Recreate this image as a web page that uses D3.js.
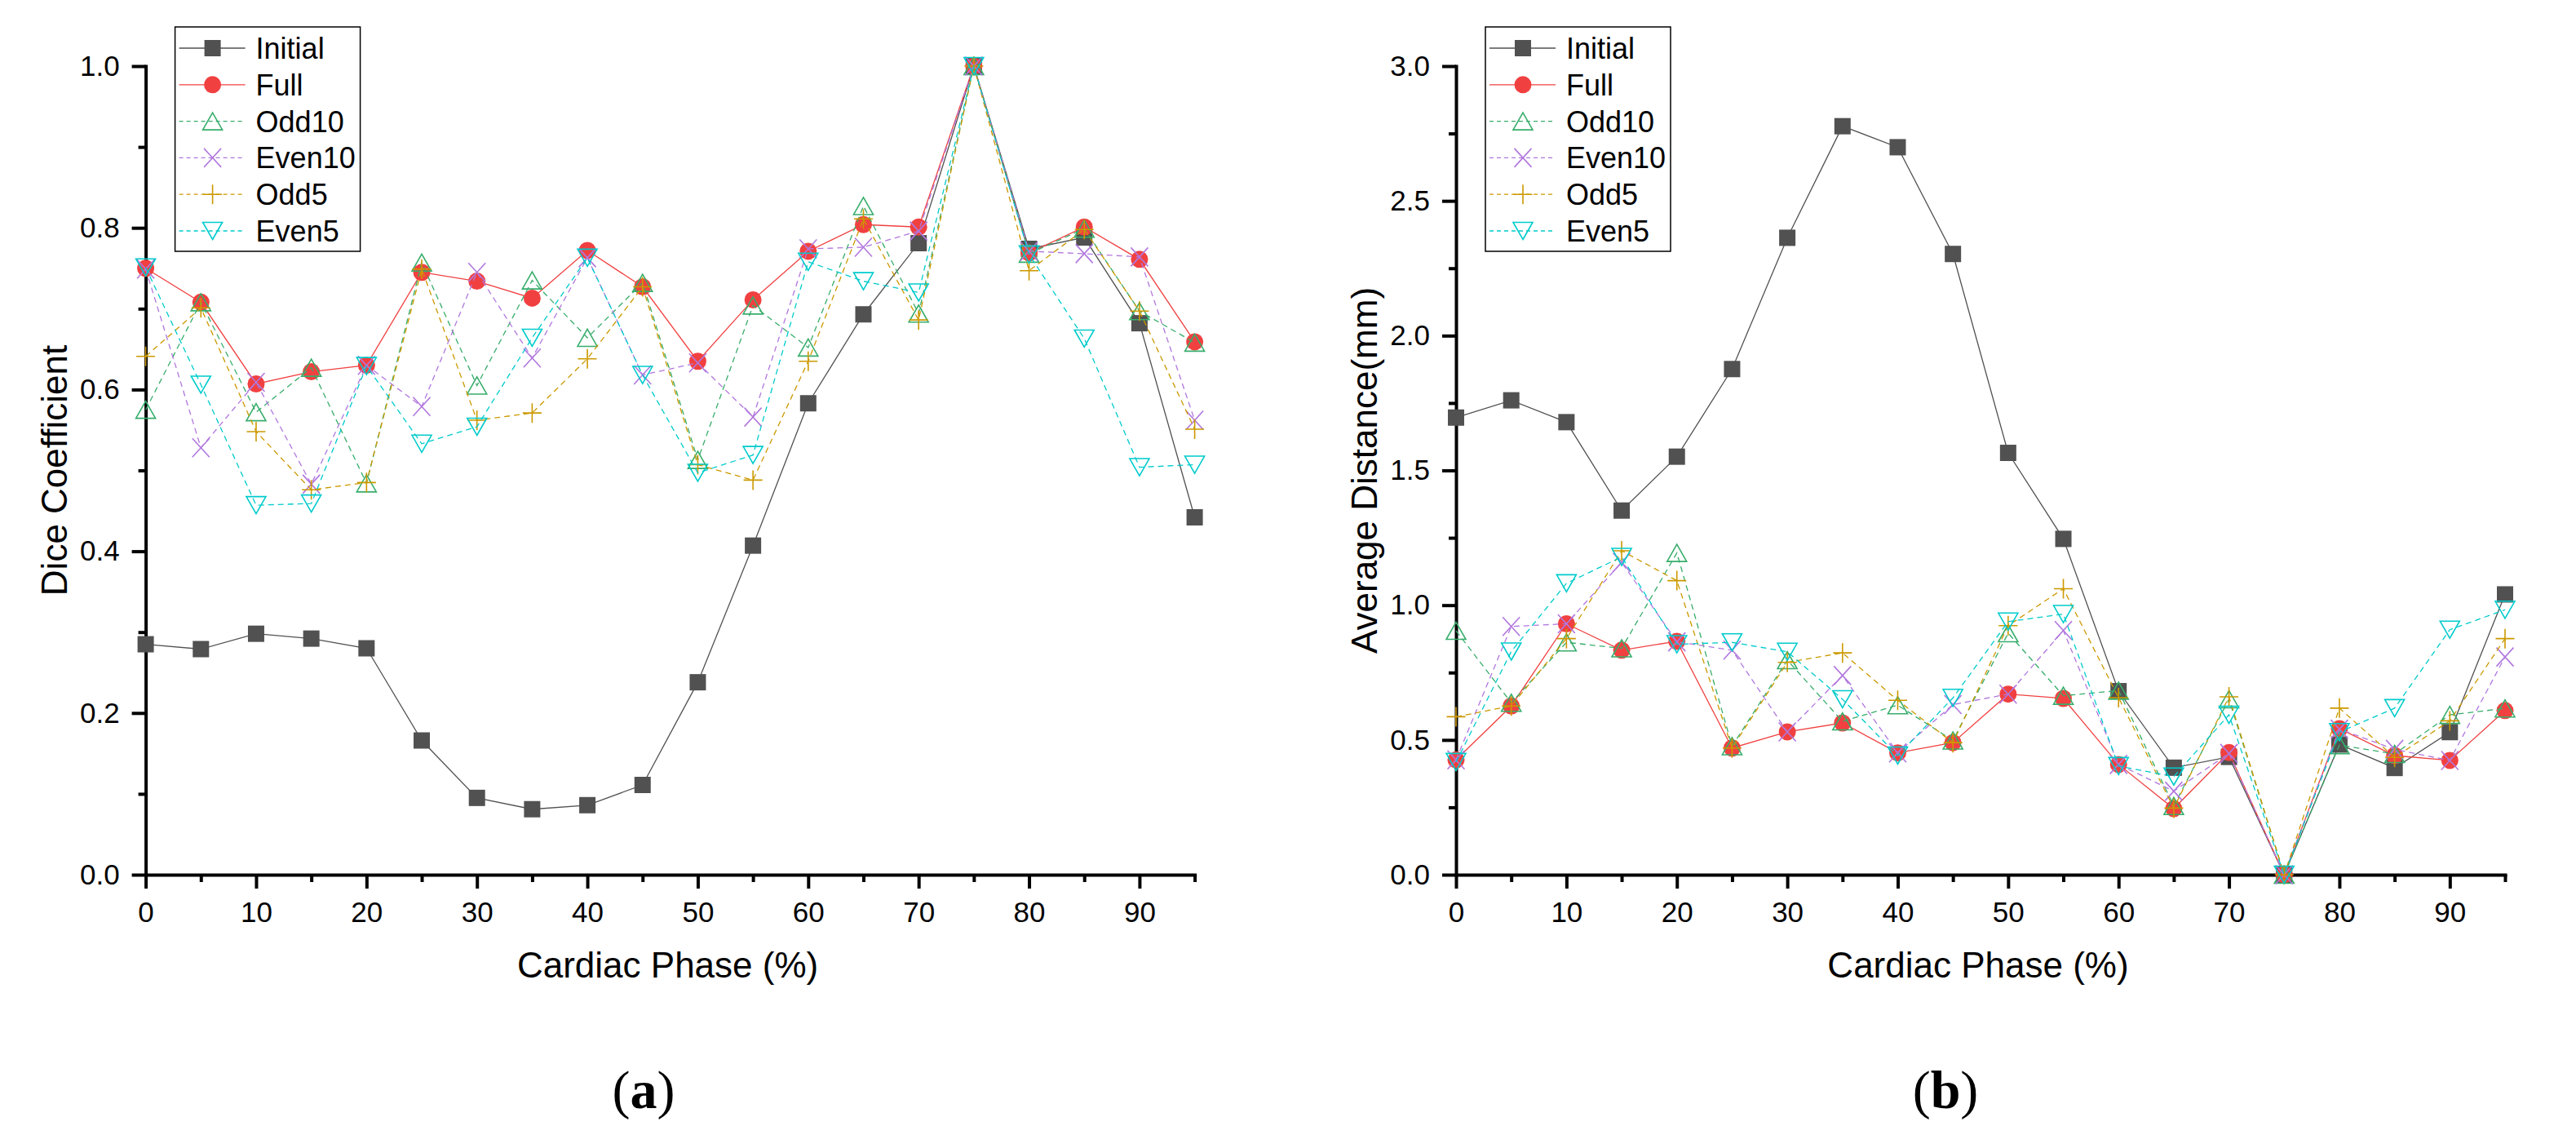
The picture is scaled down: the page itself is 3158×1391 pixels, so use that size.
<!DOCTYPE html>
<html lang="en">
<head>
<meta charset="UTF-8">
<title>Dice Coefficient and Average Distance by Cardiac Phase</title>
<style>
    body { margin: 0; background: #ffffff; }
    svg { display: block; }
    .axis text { font-family: "Liberation Sans", Arial, sans-serif; font-size: 35px; fill: #000; }
    .axis path, .axis line { stroke: #000; stroke-width: 4px; }
    .title { font-family: "Liberation Sans", Arial, sans-serif; font-size: 44px; fill: #000; }
    .legend text { font-family: "Liberation Sans", Arial, sans-serif; font-size: 36px; fill: #000; }
    .caption { font-family: "Liberation Serif", "Times New Roman", serif; font-size: 66px; fill: #000; }
</style>
</head>
<body>
<script src="https://d3js.org/d3.v7.min.js"></script>
<script>
// cardiac phase (%) on the x axis
const phases = [0, 5, 10, 15, 20, 25, 30, 35, 40, 45, 50, 55, 60, 65, 70, 75, 80, 85, 90, 95];
const xTickLabels = [0, 10, 20, 30, 40, 50, 60, 70, 80, 90];
const xMinorTicks = [5, 15, 25, 35, 45, 55, 65, 75, 85, 95];

const seriesNames = ["Initial", "Full", "Odd10", "Even10", "Odd5", "Even5"];

// (a) Dice coefficient
const diceInitial = [0.285, 0.279, 0.298, 0.292, 0.280, 0.166, 0.095, 0.081, 0.086, 0.111, 0.238, 0.407, 0.583, 0.693, 0.781, 1.000, 0.774, 0.788, 0.682, 0.442];
const diceFull    = [0.750, 0.708, 0.607, 0.622, 0.630, 0.745, 0.734, 0.713, 0.772, 0.727, 0.635, 0.711, 0.771, 0.804, 0.801, 1.000, 0.769, 0.801, 0.761, 0.659];
const diceOdd10   = [0.575, 0.708, 0.572, 0.627, 0.484, 0.757, 0.605, 0.735, 0.664, 0.732, 0.513, 0.704, 0.652, 0.827, 0.694, 1.000, 0.768, 0.799, 0.697, 0.658];
const diceEven10  = [0.749, 0.528, 0.609, 0.483, 0.630, 0.579, 0.745, 0.639, 0.763, 0.618, 0.633, 0.566, 0.774, 0.776, 0.796, 1.000, 0.771, 0.768, 0.764, 0.562];
const diceOdd5    = [0.641, 0.701, 0.548, 0.476, 0.485, 0.749, 0.562, 0.571, 0.638, 0.727, 0.507, 0.488, 0.635, 0.811, 0.686, 1.000, 0.747, 0.798, 0.697, 0.551];
const diceEven5   = [0.751, 0.606, 0.457, 0.459, 0.629, 0.533, 0.554, 0.664, 0.763, 0.618, 0.497, 0.519, 0.758, 0.734, 0.720, 1.000, 0.767, 0.663, 0.504, 0.507];
const diceTicks      = [0.0, 0.2, 0.4, 0.6, 0.8, 1.0];
const diceMinorTicks = [0.1, 0.3, 0.5, 0.7, 0.9];

// (b) average distance (mm)
const distInitial = [1.696, 1.760, 1.679, 1.351, 1.551, 1.876, 2.363, 2.777, 2.699, 2.303, 1.565, 1.246, 0.681, 0.397, 0.437, 0.000, 0.483, 0.396, 0.529, 1.040];
const distFull    = [0.426, 0.626, 0.931, 0.833, 0.866, 0.470, 0.530, 0.563, 0.452, 0.490, 0.670, 0.654, 0.409, 0.245, 0.453, 0.000, 0.542, 0.442, 0.424, 0.609];
const distOdd10   = [0.905, 0.638, 0.862, 0.840, 1.194, 0.477, 0.796, 0.569, 0.629, 0.498, 0.896, 0.664, 0.683, 0.255, 0.651, 0.000, 0.481, 0.448, 0.593, 0.617];
const distEven10  = [0.426, 0.921, 0.931, 1.159, 0.864, 0.833, 0.530, 0.739, 0.452, 0.631, 0.670, 0.906, 0.409, 0.310, 0.450, 0.000, 0.540, 0.465, 0.424, 0.808];
const distOdd5    = [0.586, 0.626, 0.876, 1.202, 1.091, 0.470, 0.788, 0.823, 0.647, 0.490, 0.924, 1.061, 0.657, 0.247, 0.660, 0.000, 0.618, 0.435, 0.571, 0.876];
const distEven5   = [0.418, 0.828, 1.081, 1.179, 0.855, 0.862, 0.827, 0.651, 0.442, 0.656, 0.939, 0.967, 0.403, 0.364, 0.593, 0.000, 0.529, 0.618, 0.909, 0.983];
const distTicks      = [0.0, 0.5, 1.0, 1.5, 2.0, 2.5, 3.0];
const distMinorTicks = [0.25, 0.75, 1.25, 1.75, 2.25, 2.75];

// look of each series (Origin default palette)
const styles = {
    Initial: { color: "#515151", dash: null,  shape: "square" },
    Full:    { color: "#F14040", dash: null,  shape: "circle" },
    Odd10:   { color: "#37AD6B", dash: "7,5", shape: "triUp" },
    Even10:  { color: "#B177DE", dash: "7,5", shape: "cross" },
    Odd5:    { color: "#CC9900", dash: "7,5", shape: "plus" },
    Even5:   { color: "#00CBCC", dash: "7,5", shape: "triDown" }
};

// marker outlines, centred on the data point
function markerPath(shape) {
    switch (shape) {
        case "square":  return "M-10,-10H10V10H-10Z";
        case "circle":  return "M10.5,0A10.5,10.5 0 1,1 -10.5,0A10.5,10.5 0 1,1 10.5,0Z";
        case "triUp":   return "M0,-10.5L12,10.5L-12,10.5Z";
        case "triDown": return "M0,10.5L12,-10.5L-12,-10.5Z";
        case "cross":   return "M-10.5,-11.5L10.5,11.5M10.5,-11.5L-10.5,11.5";
        case "plus":    return "M-11.5,0H11.5M0,-12V12";
    }
}

function drawMarker(sel, shape, color) {
    const filled = shape === "square" || shape === "circle";
    sel.append("path")
        .attr("d", markerPath(shape))
        .attr("fill", filled ? color : "none")
        .attr("stroke", filled ? "none" : color)
        .attr("stroke-width", 1.6);
}

const W = 3158, H = 1391;
const svg = d3.select("body").append("svg")
    .attr("width", W)
    .attr("height", H)
    .attr("viewBox", `0 0 ${W} ${H}`);

svg.append("rect").attr("width", W).attr("height", H).attr("fill", "#fff");

const plotTop = 81, plotBottom = 1072, plotWidth = 1286;

function drawPanel(cfg) {
    const x = d3.scaleLinear().domain([0, 95]).range([cfg.left, cfg.left + plotWidth]);
    const y = d3.scaleLinear().domain(cfg.yDomain).range([plotBottom, plotTop]);
    const g = svg.append("g");

    // minor ticks first, then the major axes on top
    g.append("g").attr("class", "axis")
        .attr("transform", `translate(0,${plotBottom})`)
        .call(d3.axisBottom(x).tickValues(xMinorTicks).tickSize(9).tickSizeOuter(0).tickFormat(""))
        .call(a => a.select(".domain").remove());
    g.append("g").attr("class", "axis")
        .attr("transform", `translate(${cfg.left},0)`)
        .call(d3.axisLeft(y).tickValues(cfg.minor).tickSize(9).tickSizeOuter(0).tickFormat(""))
        .call(a => a.select(".domain").remove());

    g.append("g").attr("class", "axis")
        .attr("transform", `translate(0,${plotBottom})`)
        .call(d3.axisBottom(x).tickValues(xTickLabels).tickSize(17).tickPadding(16).tickSizeOuter(0).tickFormat(d3.format("d")))
        .call(a => a.select(".domain").attr("stroke-linecap", "square"));
    g.append("g").attr("class", "axis")
        .attr("transform", `translate(${cfg.left},0)`)
        .call(d3.axisLeft(y).tickValues(cfg.ticks).tickSize(17).tickPadding(15).tickSizeOuter(0).tickFormat(d3.format(".1f")))
        .call(a => a.select(".domain").attr("stroke-linecap", "square"));

    // axis titles
    g.append("text").attr("class", "title")
        .attr("x", cfg.left + plotWidth / 2 - 3)
        .attr("y", 1198)
        .attr("text-anchor", "middle")
        .text("Cardiac Phase (%)");
    g.append("text").attr("class", "title")
        .attr("transform", `translate(${cfg.left - 97},${(plotTop + plotBottom) / 2}) rotate(-90)`)
        .attr("text-anchor", "middle")
        .text(cfg.yLabel);

    // series
    cfg.series.forEach((vals, i) => {
        const st = styles[seriesNames[i]];
        const pts = phases.map((p, j) => [p, vals[j]]);
        const line = d3.line().x(d => x(d[0])).y(d => y(d[1]));
        g.append("path")
            .datum(pts)
            .attr("d", line)
            .attr("fill", "none")
            .attr("stroke", st.color)
            .attr("stroke-width", 1.3)
            .attr("stroke-dasharray", st.dash);
        g.append("g").selectAll("g")
            .data(pts)
            .join("g")
            .attr("transform", d => `translate(${x(d[0])},${y(d[1])})`)
            .each(function () { drawMarker(d3.select(this), st.shape, st.color); });
    });

    // legend
    const lx = cfg.left + 36, ly = 33;
    const lg = g.append("g").attr("class", "legend");
    lg.append("rect")
        .attr("x", lx).attr("y", ly)
        .attr("width", 227).attr("height", 275)
        .attr("fill", "#fff").attr("stroke", "#000").attr("stroke-width", 1.5);
    seriesNames.forEach((name, i) => {
        const st = styles[name];
        const ry = ly + 26 + i * 44.8;
        lg.append("line")
            .attr("x1", lx + 5).attr("x2", lx + 86)
            .attr("y1", ry).attr("y2", ry)
            .attr("stroke", st.color).attr("stroke-width", 1.3)
            .attr("stroke-dasharray", st.dash ? "5,4" : null);
        const m = lg.append("g").attr("transform", `translate(${lx + 46},${ry})`);
        drawMarker(m, st.shape, st.color);
        lg.append("text")
            .attr("x", lx + 99).attr("y", ry)
            .attr("dy", "0.36em")
            .text(name);
    });

    // panel caption
    const cap = svg.append("text").attr("class", "caption")
        .attr("x", cfg.captionX).attr("y", 1358)
        .attr("text-anchor", "middle");
    cap.append("tspan").text("(");
    cap.append("tspan").attr("font-weight", "bold").text(cfg.caption);
    cap.append("tspan").text(")");
}

drawPanel({
    left: 178.6,
    yDomain: [0, 1],
    ticks: diceTicks,
    minor: diceMinorTicks,
    yLabel: "Dice Coefficient",
    series: [diceInitial, diceFull, diceOdd10, diceEven10, diceOdd5, diceEven5],
    caption: "a",
    captionX: 789
});

drawPanel({
    left: 1785,
    yDomain: [0, 3],
    ticks: distTicks,
    minor: distMinorTicks,
    yLabel: "Average Distance(mm)",
    series: [distInitial, distFull, distOdd10, distEven10, distOdd5, distEven5],
    caption: "b",
    captionX: 2385
});
</script>
</body>
</html>
